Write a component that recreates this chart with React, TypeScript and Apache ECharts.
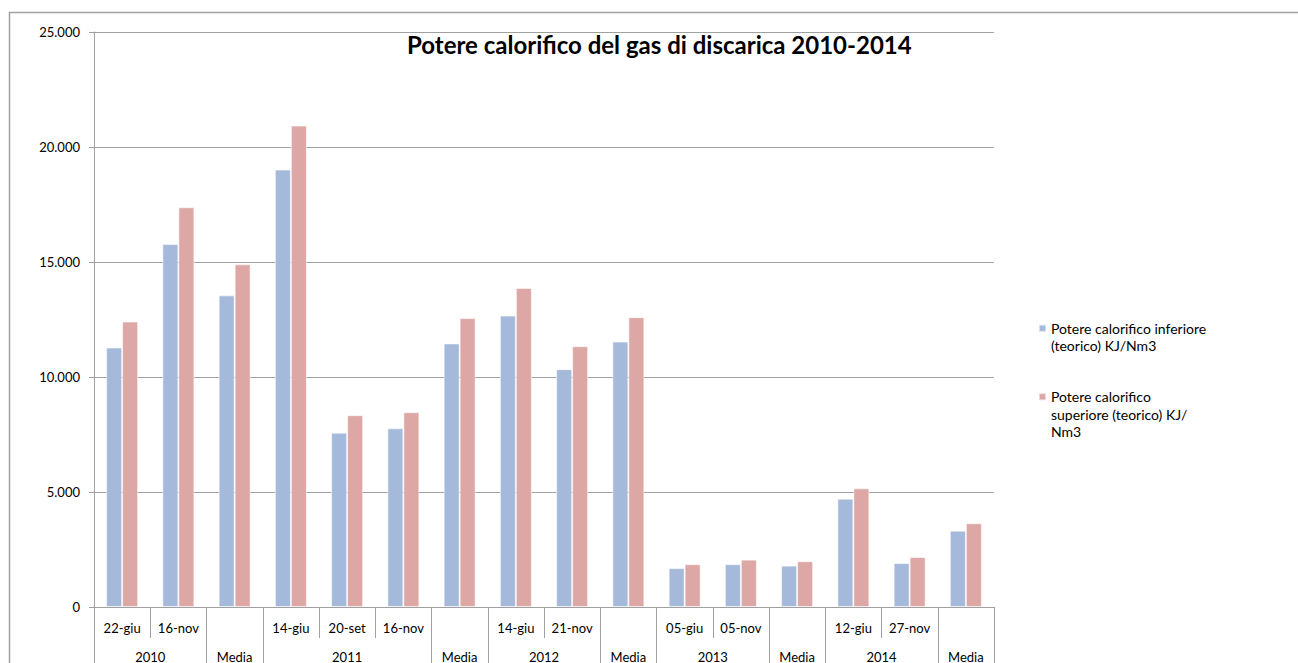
import React, { useEffect, useRef } from "react";
import * as echarts from "echarts";

const TITLE = "Potere calorifico del gas di discarica 2010-2014";
const seriesNames = [
  "Potere calorifico inferiore (teorico) KJ/Nm3",
  "Potere calorifico superiore (teorico) KJ/Nm3",
];
const legendLines = [
  ["Potere calorifico inferiore", "(teorico) KJ/Nm3"],
  ["Potere calorifico", "superiore (teorico) KJ/", "Nm3"],
];
const dateLabels = [
  "22-giu", "16-nov", "", "14-giu", "20-set", "16-nov", "",
  "14-giu", "21-nov", "", "05-giu", "05-nov", "", "12-giu", "27-nov", "",
];
const groupLabels = ["2010", "Media", "2011", "Media", "2012", "Media", "2013", "Media", "2014", "Media"];
const groupSpans = [2, 1, 3, 1, 2, 1, 2, 1, 2, 1];
const inferiore = [11280, 15780, 13550, 19020, 7580, 7770, 11460, 12670, 10340, 11540, 1690, 1860, 1800, 4710, 1910, 3320];
const superiore = [12410, 17380, 14900, 20930, 8340, 8470, 12560, 13870, 11340, 12600, 1860, 2060, 1990, 5160, 2170, 3640];
const yTicks = { min: 0, max: 25000, interval: 5000 };

const AXIS_GRAY = "#A0A0A0";
const FONT = "Lato";

function fmtThousands(v: number): string {
  return String(v).replace(/\B(?=(\d{3})+(?!\d))/g, ".");
}

// blank lines in front so that the first text line sits level with the icon
function legendText(name: string): string {
  const lines = legendLines[seriesNames.indexOf(name)];
  const pad = new Array(lines.length - 1).fill(" ");
  return [...pad, ...lines].join("\n");
}

export default function App() {
  const ref = useRef<HTMLDivElement>(null);

  useEffect(() => {
    if (!ref.current) return;
    const chart = echarts.init(ref.current, null, { renderer: "svg" });

    const halfCount = dateLabels.length * 2 + 1;
    const halfData = Array.from({ length: halfCount }, (_, i) => String(i));
    const groupLabelAt: Record<number, string> = {};
    const boundaryAt = new Set<number>();
    let cum = 0;
    boundaryAt.add(0);
    groupSpans.forEach((span, gi) => {
      groupLabelAt[cum * 2 + span] = groupLabels[gi];
      cum += span;
      boundaryAt.add(cum * 2);
    });

    const legendBase = {
      orient: "vertical",
      left: 1038,
      padding: 0,
      itemWidth: 7,
      itemHeight: 7,
      icon: "rect",
      formatter: legendText,
    };
    const legendTextStyle = { fontFamily: FONT, fontSize: 14, color: "#000", lineHeight: 17.5 };

    chart.setOption({
      animation: false,
      textStyle: { fontFamily: FONT },
      title: {
        text: TITLE,
        left: 407,
        top: 32,
        padding: 0,
        textStyle: { fontFamily: FONT, fontSize: 24, fontWeight: "bold", color: "#000" },
      },
      legend: [
        { ...legendBase, data: [seriesNames[0]], top: 302, textStyle: legendTextStyle },
        { ...legendBase, data: [seriesNames[1]], top: 353, textStyle: legendTextStyle },
      ],
      graphic: [
        {
          type: "rect",
          silent: true,
          shape: { x: 9.5, y: 12.5, width: 1400, height: 800 },
          style: { fill: "none", stroke: AXIS_GRAY, lineWidth: 1.5 },
        },
      ],
      grid: { left: 94, right: 304, top: 32, bottom: 56, containLabel: false },
      xAxis: [
        {
          type: "category",
          data: dateLabels.map((_, i) => String(i)),
          boundaryGap: true,
          axisLine: { show: true, lineStyle: { color: AXIS_GRAY, width: 1 } },
          axisTick: { show: true, interval: 0, length: 31, lineStyle: { color: AXIS_GRAY, width: 1 } },
          axisLabel: {
            interval: 0,
            margin: 14,
            fontFamily: FONT,
            fontSize: 13,
            color: "#000",
            formatter: (v: string) => dateLabels[Number(v)],
          },
          splitLine: { show: false },
        },
        {
          type: "category",
          position: "bottom",
          offset: 31,
          data: halfData,
          boundaryGap: false,
          axisLine: { show: false },
          axisTick: {
            show: true,
            length: 30,
            interval: (index: number) => boundaryAt.has(index),
            lineStyle: { color: AXIS_GRAY, width: 1 },
          },
          axisLabel: {
            interval: (index: number) => groupLabelAt[index] !== undefined,
            margin: 12,
            fontFamily: FONT,
            fontSize: 13,
            color: "#000",
            formatter: (v: string) => groupLabelAt[Number(v)] ?? "",
          },
          splitLine: { show: false },
        },
      ],
      yAxis: {
        type: "value",
        min: yTicks.min,
        max: yTicks.max,
        interval: yTicks.interval,
        axisLine: { show: true, lineStyle: { color: AXIS_GRAY, width: 1 } },
        axisTick: { show: true, length: 5, lineStyle: { color: AXIS_GRAY } },
        axisLabel: {
          margin: 14,
          fontFamily: FONT,
          fontSize: 13,
          color: "#000",
          formatter: (v: number) => fmtThousands(v),
        },
        splitLine: { show: true, lineStyle: { color: AXIS_GRAY, width: 1 } },
      },
      series: [
        {
          name: seriesNames[0],
          type: "bar",
          xAxisIndex: 0,
          data: inferiore,
          barWidth: 16,
          barGap: "0%",
          itemStyle: { color: "#A5B9DA", borderColor: "rgba(255,255,255,0.55)", borderWidth: 1 },
        },
        {
          name: seriesNames[1],
          type: "bar",
          xAxisIndex: 0,
          data: superiore,
          barWidth: 16,
          barGap: "0%",
          itemStyle: { color: "#DCA7A4", borderColor: "rgba(255,255,255,0.55)", borderWidth: 1 },
        },
      ],
    });

    return () => chart.dispose();
  }, []);

  return (
    <div
      ref={ref}
      style={{ position: "fixed", left: 0, top: 0, width: 1298, height: 663, background: "#fff" }}
    />
  );
}
